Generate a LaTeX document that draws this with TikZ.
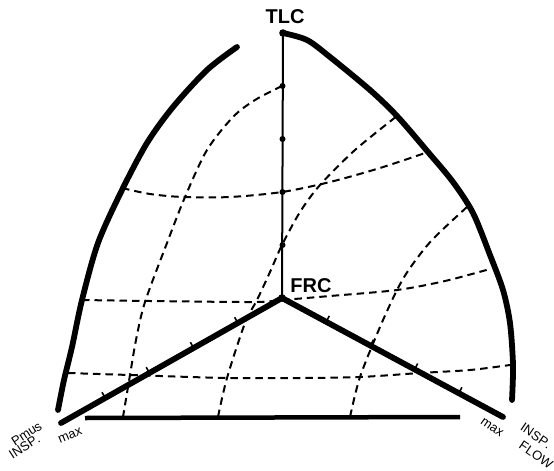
\documentclass[tikz,border=0pt]{standalone}
\usepackage{fontspec}
\setmainfont{Liberation Sans}
\usetikzlibrary{calc,decorations.text}
\newcommand\lblfont{\fontsize{13}{13}\selectfont}
\begin{document}
\begin{tikzpicture}[x=1pt,y=-1pt,
  bold/.style={line width=5.8pt, line cap=round},
  dsh/.style={line width=2pt, dash pattern=on 7.5pt off 5pt},
  tick/.style={line width=1.6pt},
  big/.style={font=\bfseries\fontsize{20}{20}\selectfont, inner sep=0pt},
  slant/.style={decorate, decoration={text along path, text={|\lblfont|#1}, text align=center}}]
\useasboundingbox (0,0) rectangle (554,471);
\coordinate (tlc) at (283,33);
\coordinate (frc) at (282,298);
\coordinate (lmax) at (61,423);
\coordinate (rmax) at (503,417);
\coordinate (b1) at (85,418);
\coordinate (b2) at (460,417);
% bold boundary arcs
\draw[bold] plot[smooth, tension=0.5] coordinates {(283,33) (307,40) (330,57) (370,90) (397,116) (428,152) (453,182) (473,213) (490,255) (503,290) (510,323) (513,365) (512,400)};
\draw[bold] plot[smooth, tension=0.5] coordinates {(237,47) (207,70) (173,107) (147,143) (122,190) (98,243) (82,300) (72,347) (64,380) (58,410)};
% dashed grid
\draw[dsh] plot[smooth] coordinates {(122,188) (150,194) (183,197) (230,197) (282,192) (330,182) (380,168) (428,152)};
\draw[dsh] plot[smooth] coordinates {(82,300) (150,301) (253,302) (282,300) (330,296) (397,290) (445,281) (490,269)};
\draw[dsh] plot[smooth] coordinates {(68,373) (130,375) (227,378) (300,378) (360,377) (420,373) (470,370) (510,365)};
\draw[dsh] plot[smooth] coordinates {(282,86) (255,100) (233,117) (207,150) (185,197) (167,243) (145,302) (136,340) (130,375) (123,417)};
\draw[dsh] plot[smooth] coordinates {(218,417) (227,378) (245,323) (257,300) (270,272) (282,245) (300,212) (320,185) (355,150) (397,116)};
\draw[dsh] plot[smooth] coordinates {(467,207) (432,240) (410,268) (397,290) (380,327) (360,377) (350,417)};
% axes
\draw[line width=2pt] (tlc) -- (frc);
\foreach \i in {1,...,4} \fill (282.5,33+53*\i) circle (3);
\fill (tlc) circle (3.8);
\fill (frc) circle (3.8);
\draw[bold] (frc) -- (lmax);
\draw[bold] (frc) -- (rmax);
\draw[line width=4.5pt] (b1) -- (b2);
\foreach \t in {0.2,0.4,0.6,0.8} {
  \draw[tick] ($(frc)!\t!(lmax)$) -- ($(frc)!\t!(lmax)+(-3.2,-5.8)$);
  \draw[tick] ($(frc)!\t!(rmax)$) -- ($(frc)!\t!(rmax)+(3.1,-5.9)$);
}
% labels
\node[big] (tlcl) at (285,17) {TLC};
\node[big] (frcl) at (311,286) {FRC};
\path[slant=Pmus] (2,455) -- (56,420);
\path[slant=INSP.] (0,468) -- (54,433);
\path[slant=max] (46,449) -- (97,428);
\path[slant=max] (469,416) -- (511,445);
\path[slant=INSP.] (511,424) -- (556,455);
\path[slant=FLOW] (511,443) -- (556,474);
\end{tikzpicture}
\end{document}
